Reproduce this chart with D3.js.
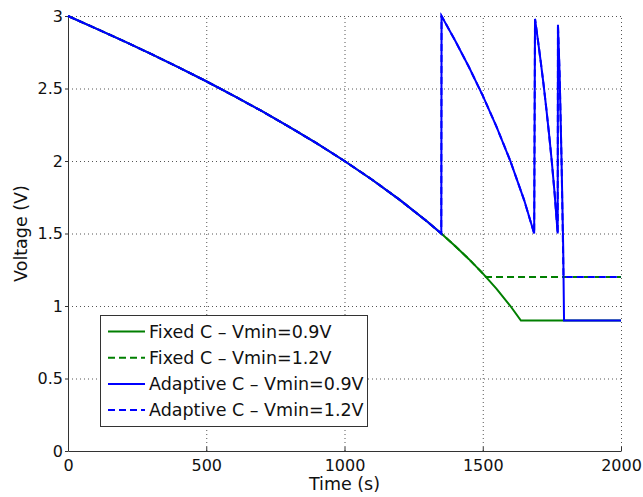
<!DOCTYPE html>
<html>
<head>
    <meta charset="utf-8">
    <title>Voltage vs time</title>
    <script src="https://d3js.org/d3.v7.min.js"></script>
    <style>
        body { margin: 0; background: #fff; }
        text { font-family: "DejaVu Sans", sans-serif; fill: #111; }
    </style>
</head>
<body>
    <div id="chart"></div>

    <script>
        // values (time in s, voltage in V)
        var fixedLowT  = [0, 100, 200, 300, 400, 500, 600, 700, 800, 900, 1000, 1100, 1200, 1300, 1350, 1400, 1450, 1500, 1550, 1600, 1638, 2000];
        var fixedLowV  = [3.0, 2.915, 2.828, 2.739, 2.646, 2.55, 2.449, 2.345, 2.236, 2.121, 2.0, 1.871, 1.732, 1.581, 1.5, 1.414, 1.323, 1.225, 1.118, 1.0, 0.9, 0.9];

        var fixedHighT = [0, 100, 200, 300, 400, 500, 600, 700, 800, 900, 1000, 1100, 1200, 1300, 1350, 1400, 1450, 1500, 1512, 2000];
        var fixedHighV = [3.0, 2.915, 2.828, 2.739, 2.646, 2.55, 2.449, 2.345, 2.236, 2.121, 2.0, 1.871, 1.732, 1.581, 1.5, 1.414, 1.323, 1.225, 1.2, 1.2];

        var adaptLowT  = [0, 100, 200, 300, 400, 500, 600, 700, 800, 900, 1000, 1100, 1200, 1300, 1350,
                          1351, 1400, 1450, 1500, 1550, 1600, 1650, 1686,
                          1689, 1700, 1710, 1720, 1730, 1740, 1750, 1760, 1771,
                          1772, 1778, 1785, 1791, 1794, 2000];
        var adaptLowV  = [3.0, 2.915, 2.828, 2.739, 2.646, 2.55, 2.449, 2.345, 2.236, 2.121, 2.0, 1.871, 1.732, 1.581, 1.5,
                          3.0, 2.831, 2.648, 2.451, 2.236, 1.999, 1.729, 1.5,
                          2.98, 2.827, 2.68, 2.526, 2.36, 2.182, 1.99, 1.775, 1.5,
                          2.94, 2.6, 2.0, 1.4, 0.9, 0.9];

        var adaptHighT = [0, 100, 200, 300, 400, 500, 600, 700, 800, 900, 1000, 1100, 1200, 1300, 1350,
                          1351, 1400, 1450, 1500, 1550, 1600, 1650, 1686,
                          1689, 1700, 1710, 1720, 1730, 1740, 1750, 1760, 1771,
                          1772, 1778, 1785, 1792, 2000];
        var adaptHighV = [3.0, 2.915, 2.828, 2.739, 2.646, 2.55, 2.449, 2.345, 2.236, 2.121, 2.0, 1.871, 1.732, 1.581, 1.5,
                          3.0, 2.831, 2.648, 2.451, 2.236, 1.999, 1.729, 1.5,
                          2.98, 2.827, 2.68, 2.526, 2.36, 2.182, 1.99, 1.775, 1.5,
                          2.94, 2.6, 2.0, 1.2, 1.2];

        var xTicks = [0, 500, 1000, 1500, 2000];
        var yTicks = [0, 0.5, 1, 1.5, 2, 2.5, 3];

        var seriesNames = ["Fixed C \u2013 Vmin=0.9V", "Fixed C \u2013 Vmin=1.2V",
                           "Adaptive C \u2013 Vmin=0.9V", "Adaptive C \u2013 Vmin=1.2V"];

        var W = 643, H = 497;
        var plotLeft = 68, plotRight = 621, plotTop = 16, plotBottom = 451;

        var svg = d3.select("#chart").append("svg")
            .attr("width", W)
            .attr("height", H);

        var x = d3.scaleLinear().domain([0, 2000]).range([plotLeft, plotRight]);
        var y = d3.scaleLinear().domain([0, 3]).range([plotBottom, plotTop]);

        // dotted grid
        svg.append("g")
            .attr("transform", "translate(0," + plotBottom + ")")
            .call(d3.axisBottom(x).tickValues(xTicks.slice(1)).tickSize(-(plotBottom - plotTop)).tickFormat(""))
            .call(function(g) {
                g.select(".domain").remove();
                g.selectAll("line").attr("stroke", "#555").attr("stroke-dasharray", "1,3");
            });
        svg.append("g")
            .attr("transform", "translate(" + plotLeft + ",0)")
            .call(d3.axisLeft(y).tickValues(yTicks.slice(1)).tickSize(-(plotRight - plotLeft)).tickFormat(""))
            .call(function(g) {
                g.select(".domain").remove();
                g.selectAll("line").attr("stroke", "#555").attr("stroke-dasharray", "1,3");
            });

        // axes
        svg.append("g")
            .attr("transform", "translate(0," + plotBottom + ")")
            .call(d3.axisBottom(x).tickValues(xTicks).tickSizeInner(-4).tickSizeOuter(0).tickPadding(9)
                .tickFormat(d3.format("d")))
            .call(function(g) {
                g.select(".domain").attr("stroke", "#333");
                g.selectAll("line").attr("stroke", "#333");
                g.selectAll("text").attr("font-size", 16).attr("font-family", "DejaVu Sans").attr("fill", "#111");
            });
        svg.append("g")
            .attr("transform", "translate(" + plotLeft + ",0)")
            .call(d3.axisLeft(y).tickValues(yTicks).tickSizeInner(3).tickSizeOuter(0).tickPadding(2)
                .tickFormat(function(d) { return String(d); }))
            .call(function(g) {
                g.select(".domain").attr("stroke", "#333");
                g.selectAll("line").attr("stroke", "#333");
                g.selectAll("text").attr("font-size", 16).attr("font-family", "DejaVu Sans").attr("fill", "#111");
            });

        // lines
        var line = d3.line()
            .x(function(d) { return x(d[0]); })
            .y(function(d) { return y(d[1]); });

        var series = [
            { t: fixedLowT,  v: fixedLowV,  color: "#007f00", dash: null },
            { t: fixedHighT, v: fixedHighV, color: "#007f00", dash: "7,4" },
            { t: adaptLowT,  v: adaptLowV,  color: "#0000ff", dash: null },
            { t: adaptHighT, v: adaptHighV, color: "#0000ff", dash: "7,4" }
        ];

        series.forEach(function(s) {
            var pts = s.t.map(function(t, i) { return [t, s.v[i]]; });
            svg.append("path")
                .datum(pts)
                .attr("fill", "none")
                .attr("stroke", s.color)
                .attr("stroke-width", 2)
                .attr("stroke-linejoin", "miter")
                .attr("stroke-dasharray", s.dash)
                .attr("d", line);
        });

        // axis labels
        svg.append("text")
            .attr("x", (plotLeft + plotRight) / 2)
            .attr("y", 490)
            .attr("text-anchor", "middle")
            .attr("font-size", 17.5)
            .text("Time (s)");

        svg.append("text")
            .attr("transform", "translate(27," + ((plotTop + plotBottom) / 2) + ") rotate(-90)")
            .attr("text-anchor", "middle")
            .attr("font-size", 17.5)
            .text("Voltage (V)");

        // legend
        var legend = svg.append("g");
        legend.append("rect")
            .attr("x", 100.5).attr("y", 315.5)
            .attr("width", 267).attr("height", 111)
            .attr("fill", "#fff")
            .attr("stroke", "#333");

        seriesNames.forEach(function(name, i) {
            var cy = 331.5 + i * 26.2;
            legend.append("line")
                .attr("x1", 108).attr("x2", 145)
                .attr("y1", cy).attr("y2", cy)
                .attr("stroke", series[i].color)
                .attr("stroke-width", 2)
                .attr("stroke-dasharray", series[i].dash);
            legend.append("text")
                .attr("x", 149)
                .attr("y", cy)
                .attr("dy", "0.36em")
                .attr("font-size", 17.5)
                .text(name);
        });
    </script>
</body>
</html>
